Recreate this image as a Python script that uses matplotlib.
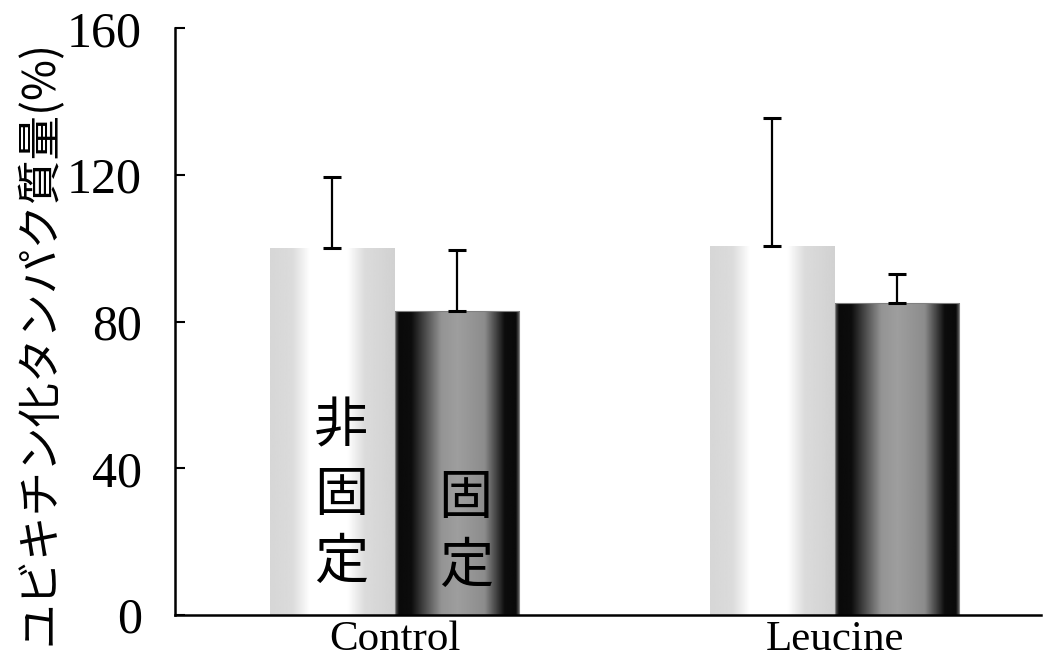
import numpy as np
import matplotlib
matplotlib.use('Agg')
import matplotlib.pyplot as plt

# values
groups = ['Control', 'Leucine']
nonfixed = [100, 100.5]
nonfixed_err = [19.5, 35]
fixed = [83, 85]
fixed_err = [16.5, 8]
yticks = [0, 40, 80, 120, 160]

jp = ['Noto Sans CJK JP', 'DejaVu Sans']
plt.rcParams['font.family'] = ['Liberation Serif', 'DejaVu Serif']

fig = plt.figure(figsize=(10.44, 6.57), dpi=100)
ax = fig.add_axes([0.1676, 0.064, 0.83, 0.893])

x = np.arange(len(groups))
w = 0.283

# horizontal shading profiles (gray level across the bar width)
pos = np.linspace(0, 1, 200)
light_prof = np.interp(pos, [0, 0.18, 0.32, 0.62, 0.76, 1], [0.84, 0.86, 1, 1, 0.86, 0.82])
dark_prof = np.interp(pos, [0, 0.03, 0.13, 0.37, 0.5, 0.72, 0.88, 0.97, 1],
                      [0.35, 0.04, 0.05, 0.58, 0.62, 0.55, 0.05, 0.04, 0.4])


def shade(bars, prof):
    for b in bars:
        x0, y0 = b.get_x(), b.get_y()
        im = ax.imshow(prof[np.newaxis, :], cmap='gray', vmin=0, vmax=1,
                       extent=[x0, x0 + b.get_width(), y0, y0 + b.get_height()],
                       aspect='auto', interpolation='bilinear', zorder=1)
        im.set_clip_path(b)


bars1 = ax.bar(x - w / 2, nonfixed, w, facecolor='none', edgecolor='none', zorder=2)
bars2 = ax.bar(x + w / 2, fixed, w, facecolor='none', edgecolor='#808080', linewidth=0.8, zorder=2)
shade(bars1, light_prof)
shade(bars2, dark_prof)

ax.errorbar(x - w / 2, nonfixed, yerr=[np.zeros(len(x)), nonfixed_err], fmt='none',
            ecolor='black', elinewidth=1.6, capsize=6.5, capthick=2.2, zorder=3)
ax.errorbar(x + w / 2, fixed, yerr=[np.zeros(len(x)), fixed_err], fmt='none',
            ecolor='black', elinewidth=1.6, capsize=6.5, capthick=2.2, zorder=3)

ax.text(x[0] - w / 2 + 0.02, 32.7, '非\n固\n定', ha='center', va='center', fontsize=39,
        linespacing=1.3, family=jp, zorder=4)
ax.text(x[0] + w / 2 + 0.02, 22.5, '固\n定', ha='center', va='center', fontsize=39,
        linespacing=1.3, family=jp, zorder=4)

ax.set_xlim(-0.499, 1.47)
ax.set_ylim(0, 160)
ax.set_yticks(yticks)
ax.set_xticks(x)
ax.set_xticklabels(groups)
ax.tick_params(axis='y', direction='in', length=7, width=1.5, labelsize=36, pad=24)
ax.tick_params(axis='x', length=0, labelsize=31, pad=4)

ax.set_ylabel('ユビキチン化タンパク質量(%)', fontsize=32, family=jp)
ax.yaxis.set_label_coords(-0.13, 0.465)

for s in ['top', 'right']:
    ax.spines[s].set_visible(False)
for s in ['left', 'bottom']:
    ax.spines[s].set_linewidth(1.8)

fig.savefig('out.png', dpi=100)
